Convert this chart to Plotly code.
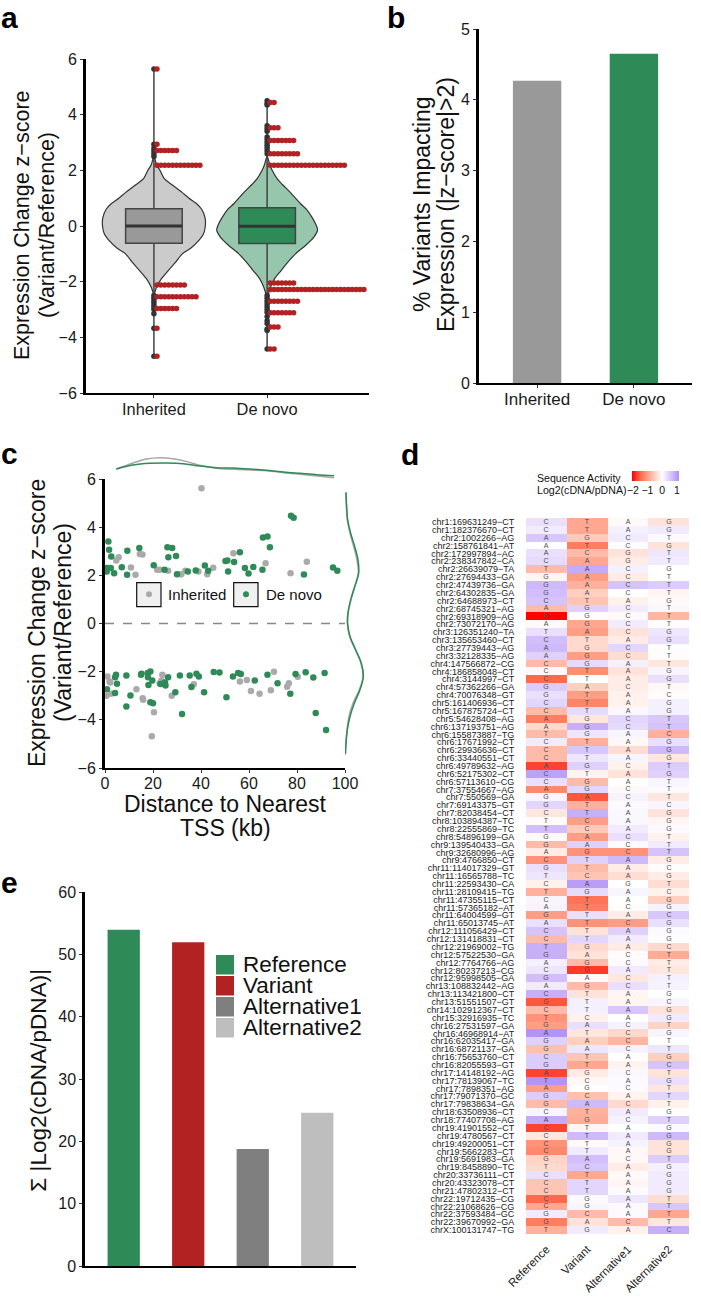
import plotly.graph_objects as go

W, H = 701, 1300
FONT = "Liberation Sans"
GREEN = "#2e8b57"
RED = "#b22222"
GREY = "#aaaaaa"

# a: violins, outliers
groups = ["Inherited", "De novo"]
violin_y_inh = [2.5, 2.2, 2.0, 1.7, 1.5, 1.2, 1.0, 0.8, 0.6, 0.3, 0.0, -0.3, -0.5, -0.8, -1.0, -1.3, -1.6, -1.9, -2.2, -2.5]
violin_w_inh = [0, 8, 18, 31, 52, 85, 105, 128, 143, 153, 154, 148, 136, 110, 85, 65, 43, 22, 8, 0]
violin_y_dn = [2.5, 2.2, 2.0, 1.7, 1.5, 1.2, 1.0, 0.8, 0.6, 0.3, 0.0, -0.15, -0.4, -0.7, -1.0, -1.3, -1.6, -1.9, -2.2, -2.6]
violin_w_dn = [0, 8, 15, 30, 45, 70, 85, 100, 118, 135, 148, 151, 140, 115, 85, 62, 42, 22, 10, 0]
box_q1 = [-0.62, -0.63]
box_med = [0.0, -0.01]
box_q3 = [0.62, 0.66]
box_low = [-4.68, -4.42]
box_high = [5.64, 4.5]
stack_y_inh = [5.64, 2.94, 2.71, 2.18, -2.12, -2.54, -2.96, -3.67, -4.68]
stack_n_inh = [1, 1, 6, 12, 8, 11, 6, 1, 1]
stack_y_dn = [4.44, 3.53, 3.07, 2.6, 2.18, -2.05, -2.28, -2.7, -3.12, -3.63, -4.42]
stack_n_dn = [2, 3, 7, 8, 20, 7, 25, 8, 7, 3, 2]
outlier_inh = [5.64, 2.94, 2.8, 2.7, 2.6, 2.5, -2.5, -2.6, -2.7, -2.8, -2.9, -3.0, -3.15, -3.67, -4.68]
outlier_dn = [4.5, 4.4, 4.35, 3.6, 3.5, 3.4, 3.2, 3.1, 3.0, 2.9, 2.8, 2.7, 2.6, -2.5, -2.6, -2.7, -2.8, -2.9, -3.0, -3.1,
              -3.25, -3.4, -3.5, -3.7, -3.75, -4.42]

# b
pct_impact = [4.27, 4.65]

# c: scatter, marginal densities
dn_x = [1.4, 1.7, 2.6, 0.6, 1.3, 2.4, 0.7, 3.8, 7.0, 9.3, 9.2, 14.3, 26.0, 28.0, 26.4, 29.6, 20.3, 24.8, 30.0, 34.5, 37.8,
        41.6, 43.0, 50.2, 51.0, 51.3, 53.8, 56.2, 58.3, 59.8, 61.8, 65.6, 65.8, 67.7, 68.7, 77.5, 78.6, 82.9, 95.0, 96.8,
        0.8, 4.6, 4.2, 5.0, 4.2, 8.9, 8.9, 10.6, 15.2, 15.0, 17.8, 18.9, 18.1, 19.7, 17.9, 18.9, 20.0, 23.1, 26.3, 25.2,
        25.0, 29.3, 31.2, 32.1, 35.3, 36.0, 38.1, 39.1, 41.3, 45.3, 47.7, 50.6, 53.3, 55.5, 56.6, 62.4, 67.7, 71.9, 77.2,
        79.4, 83.6, 86.8, 87.8, 91.5, 92.1]
dn_z = [3.40, 3.06, 2.78, 2.30, 2.30, 2.30, 2.16, 2.09, 2.34, 3.02, 2.02, 3.13, 3.17, 3.13, 2.75, 2.80, 2.42, 2.23, 2.05, 2.16, 2.20,
        2.41, 2.19, 2.59, 2.62, 2.16, 2.55, 2.96, 2.30, 2.08, 2.35, 2.23, 3.57, 3.61, 3.17, 4.47, 4.39, 2.03, 2.33, 2.19,
        -2.73, -2.13, -2.23, -2.5, -2.89, -2.16, -3.45, -2.99, -2.09, -2.13, -2.06, -1.99, -2.55, -2.37, -2.23, -3.27, -3.31, -2.51, -2.23, -2.57,
        -2.45, -2.85, -2.16, -3.76, -2.16, -2.64, -2.09, -2.20, -2.85, -2.01, -2.03, -3.06, -2.20, -2.06, -2.10, -2.37, -2.13, -2.48, -2.92,
        -2.10, -2.02, -2.24, -3.72, -2.06, -4.42]
inh_x = [40.2, 5.7, 4.7, 14.5, 15.6, 10.8, 12.7, 21.7, 22.8, 26.3, 31.2, 31.8, 33.5, 38.9, 42.6, 45.1, 53.5, 66.9, 77.3, 84.1,
         0.6, 1.0, 1.9, 2.2, 2.6, 13.1, 15.9, 15.7, 20.4, 19.5, 23.9, 23.5, 22.8, 27.8, 37.0, 56.2, 59.1, 60.8, 64.4, 69.1,
         70.4, 75.9, 76.6, 80.3]
inh_z = [5.62, 2.75, 2.62, 2.89, 2.87, 2.33, 2.02, 2.23, 2.23, 2.19, 2.05, 2.05, 2.19, 2.16, 2.05, 2.31, 2.92, 2.5, 2.09, 2.56,
         -3.0, -2.2, -2.41, -2.45, -2.92, -2.73, -3.17, -3.1, -3.68, -4.68, -2.13, -2.37, -2.48, -3.0, -2.52, -2.41, -2.35, -2.8, -2.92, -2.77,
         -2.0, -2.63, -2.48, -2.21]
top_x_dn = [4.7, 11.7, 18.6, 25.6, 32.6, 39.5, 46.5, 53.5, 60.4, 67.4, 74.4, 81.3, 88.3, 95.5]
top_d_dn = [.033, .045, .050, .051, .049, .042, .037, .036, .033, .029, .024, .020, .016, .013]
top_x_inh = [4.7, 11.7, 17.2, 22.8, 28.3, 33.8, 39.5, 46.5, 53.5, 60.4, 67.4, 74.4, 81.3, 88.3, 95.5]
top_d_inh = [.033, .051, .063, .067, .064, .056, .044, .035, .032, .030, .028, .022, .017, .012, .007]
side_z = [5.44, 4.86, 4.30, 3.75, 3.2, 2.64, 2.09, 1.54, .98, .43, 0, -.54, -1.09, -1.65, -2.2, -2.75, -3.31, -3.86, -4.42, -4.97, -5.43]
side_d_dn = [.015, .025, .04, .085, .145, .195, .205, .145, .085, .045, .04, .075, .16, .245, .275, .225, .14, .075, .035, .015, .005]
side_d_inh = [.015, .02, .035, .075, .13, .18, .2, .15, .09, .045, .035, .07, .155, .24, .27, .215, .12, .06, .03, .015, .005]

# d: heatmap
heat_cols = ["Reference", "Variant", "Alternative1", "Alternative2"]
variants = """chr1:169631249-CT chr1:182376670-CT chr2:1002266-AG chr2:158761841-AT chr2:172997894-AC chr2:238347842-CA
chr2:26639079-TA chr2:27694433-GA chr2:47439736-GA chr2:64302835-GA chr2:64688973-CT chr2:68745321-AG chr2:69318909-AG
chr2:73072170-AG chr3:126351240-TA chr3:135653460-CT chr3:27739443-AG chr3:32128335-AG chr4:147566872-CG chr4:186858048-CT
chr4:3144997-CT chr4:57362266-GA chr4:70076348-GT chr5:161406936-CT chr5:167875724-CT chr5:54628408-AG chr6:137193751-AG
chr6:155873887-TG chr6:17671992-CT chr6:29936636-CT chr6:33440551-CT chr6:49789632-AG chr6:52175302-CT chr6:57113610-CG
chr7:37554667-AG chr7:550569-GA chr7:69143375-GT chr7:82038454-CT chr8:103894387-TC chr8:22555869-TC chr8:54896199-GA
chr9:139540433-GA chr9:32680996-AG chr9:4766850-CT chr11:114017329-GT chr11:16565788-TC chr11:22593430-CA chr11:28109415-TG
chr11:47355115-CT chr11:57365182-AT chr11:64004599-GT chr11:65013745-AT chr12:111056429-CT chr12:131418831-CT chr12:21969002-TG
chr12:57522530-GA chr12:7764766-AG chr12:80237213-CG chr12:95998505-GA chr13:108832442-AG chr13:113421800-CT chr13:51551507-GT
chr14:102912367-CT chr15:32916935-TC chr16:27531597-GA chr16:46968914-AT chr16:62035417-GA chr16:68721137-GA chr16:75653760-CT
chr16:82055593-GT chr17:14148192-AG chr17:78139067-TC chr17:7898351-AG chr17:79071370-GC chr17:79838634-GA chr18:63508936-CT
chr18:77407708-AG chr19:41901552-CT chr19:4780567-CT chr19:49200051-CT chr19:5662283-CT chr19:5691983-GA chr19:8458890-TC
chr20:33736111-CT chr20:43323078-CT chr21:47802312-CT chr22:19712435-CG chr22:21068626-CG chr22:37593484-GC chr22:39670992-GA
chrX:100131747-TG""".split()
act_ref = [.3, .2, .55, 0, .3, .35, -.7, -.1, .7, .65, .6, -.7, -2.1, -.05, .3, .65, .7, .45, -.7, -.07, -1.5, .5, .3, .4, -.7, -1.3,
           -.4, -.7, .2, -.7, -.7, -1.7, .95, .3, -1.2, .1, .4, -.25, -.03, .65, -.05, -.7, -.2, -1.1, .3, .25, -.15, -.8, .1, .12,
           -1.0, .3, .6, -.7, .8, .8, .15, .25, .65, .2, .8, -1.6, -.7, -1.1, -1.0, 1.1, .45, -.65, .5, .5, -1.7, 1.1, -1.0, .5, -.7,
           .1, .85, -1.7, -.25, -1.1, -1.2, -.45, -.4, .3, -.6, -.6, -1.5, -.9, .2, -1.3, -.8]
act_var = [-.9, -.9, -.55, -1.3, -.7, -.9, .85, -1.0, -.8, -.5, -.6, .45, -.03, -.9, -1.0, -.4, -.4, -1.0, .35, -1.15, 0, -.5, -1.0, -1.25,
           .35, -.25, .8, .25, -.8, .55, .25, .45, -.12, -.7, .4, -1.6, -.8, .8, -1.0, -.55, -1.0, .45, -1.1, .45, -.7, -.6, 1.0, .35,
           -1.4, -1.3, .3, -1.1, -.3, .4, -.4, -.3, -.7, -1.75, -.05, -.7, -.3, .15, .15, -.15, .3, -.25, -.5, .25, -.6, -.9, -.2, -.07,
           0, -.65, .7, -.8, -.85, -.1, .7, -.05, .2, .65, .55, -.9, .4, .4, .05, .1, -.7, -.3, .2]
act_alt1 = [-.05, .15, .2, .03, -.3, -.2, .15, -.2, .6, 0, -.15, .2, -.05, .2, -.3, -.2, .4, -.35, .15, -.3, -.2, -.2, -.15, -.15, .07, .4,
            .35, .1, -.07, -.35, .1, -.15, -.3, 0, -.05, .12, .05, .07, .07, .2, .3, .05, -1.1, .7, -.2, -.35, 0, .1, 0, -.02, -.2, -1.0,
            .45, .2, -.2, -.03, .05, .2, -.25, .3, -.1, -.1, .55, 0, .12, -.4, -.75, .12, 0, -.12, .07, .05, .05, -.12, -.4, .2, .12, 0,
            .2, .12, -.07, -.07, -.2, -.05, -.1, .05, .25, .05, .05, -.7, -.15]
act_alt2 = [-.3, .2, .05, -.3, .25, .2, 0, 0, .5, -.1, -.05, .07, -.75, -.03, .25, .3, .03, -.03, -.25, .1, .3, -.07, -.03, .15, .15, .55,
            .6, -.8, .3, .7, -.25, .5, .45, .1, .05, -.25, .1, -.3, -.1, .05, -.15, .2, .6, -.2, -.02, -.2, -.35, -.15, -.5, .12, .55, .3,
            .05, .03, -.4, -.85, -.2, -.25, .15, .12, 0, .1, -.3, .2, -.45, .1, 0, .25, -.5, .6, -.3, .3, -.25, .4, -.15, 0, .45, .05,
            .7, -.3, -.3, .5, .15, .2, .2, .2, -.35, .55, -.9, -.25, .8]

# e
sum_labels = ["Reference", "Variant", "Alternative1", "Alternative2"]
sum_values = [54.0, 52.0, 18.8, 24.6]
sum_colors = [GREEN, RED, "#7f7f7f", "#bebebe"]


def fx(p):
    return p / W


def fy(p):
    return 1 - p / H


fig = go.Figure()


# ---- a ----
def violin(center, ys, ws, fill):
    xs = [center - w / 339 for w in ws] + [center + w / 339 for w in ws[::-1]]
    fig.add_trace(go.Scatter(x=xs, y=ys + ys[::-1], mode="lines", fill="toself", fillcolor=fill,
                             line=dict(color="#333333", width=1.2, shape="spline", smoothing=0.8),
                             xaxis="x", yaxis="y", showlegend=False))


violin(0, violin_y_inh, violin_w_inh, "#cbcbcb")
violin(1, violin_y_dn, violin_w_dn, "#96c6ab")
# boxes go on an overlay pair of axes, else the filled violins paint over them
for i, c in enumerate(["#999999", GREEN]):
    fig.add_trace(go.Box(x=[i], q1=[box_q1[i]], median=[box_med[i]], q3=[box_q3[i]], lowerfence=[box_low[i]],
                         upperfence=[box_high[i]], width=0.5, whiskerwidth=0, boxpoints=False, fillcolor=c,
                         line=dict(color="#444444", width=1.5), xaxis="x8", yaxis="y8", showlegend=False))
    fig.add_trace(go.Scatter(x=[i - 0.25, i + 0.25], y=[box_med[i], box_med[i]], mode="lines",
                             line=dict(color="#333333", width=3), xaxis="x8", yaxis="y8", showlegend=False))
for i, vals in enumerate([outlier_inh, outlier_dn]):
    fig.add_trace(go.Scatter(x=[i] * len(vals), y=vals, mode="markers", marker=dict(color="#333333", size=5.5),
                             xaxis="x8", yaxis="y8", showlegend=False))
for i, (sy, sn) in enumerate([(stack_y_inh, stack_n_inh), (stack_y_dn, stack_n_dn)]):
    xs, ys = [], []
    for y, n in zip(sy, sn):
        for k in range(n):
            xs.append(i + 0.027 + 0.0345 * k)
            ys.append(y)
    fig.add_trace(go.Scatter(x=xs, y=ys, mode="markers", marker=dict(color=RED, size=5.5),
                             xaxis="x8", yaxis="y8", showlegend=False))

# ---- b ----
fig.add_trace(go.Bar(x=[0, 1], y=pct_impact, width=0.5, marker=dict(color=["#999999", GREEN], line_width=0),
                     xaxis="x2", yaxis="y2", showlegend=False))

# ---- c ----
fig.add_trace(go.Scatter(x=[0, 100], y=[0, 0], mode="lines", line=dict(color="#888888", width=1.3, dash="dash"),
                         xaxis="x3", yaxis="y3", showlegend=False))
fig.add_trace(go.Scatter(x=inh_x, y=inh_z, mode="markers", marker=dict(color=GREY, size=6.5),
                         xaxis="x3", yaxis="y3", showlegend=False))
fig.add_trace(go.Scatter(x=dn_x, y=dn_z, mode="markers", marker=dict(color=GREEN, size=6.5),
                         xaxis="x3", yaxis="y3", showlegend=False))
fig.add_trace(go.Scatter(x=top_x_inh, y=top_d_inh, mode="lines", line=dict(color="#a6a6a6", width=1.5, shape="spline"),
                         xaxis="x4", yaxis="y4", showlegend=False))
fig.add_trace(go.Scatter(x=top_x_dn, y=top_d_dn, mode="lines", line=dict(color=GREEN, width=1.5, shape="spline"),
                         xaxis="x4", yaxis="y4", showlegend=False))
fig.add_trace(go.Scatter(x=side_d_inh, y=side_z, mode="lines", line=dict(color="#a6a6a6", width=1.5, shape="spline"),
                         xaxis="x5", yaxis="y5", showlegend=False))
fig.add_trace(go.Scatter(x=side_d_dn, y=side_z, mode="lines", line=dict(color=GREEN, width=1.5, shape="spline"),
                         xaxis="x5", yaxis="y5", showlegend=False))

# ---- d ----
z_rows = [list(r) for r in zip(act_ref, act_var, act_alt1, act_alt2)]
letters = []
for v in variants:
    ref, alt = v[-2], v[-1]
    rest = [b for b in "ACGT" if b not in (ref, alt)]
    letters.append([ref, alt] + rest)
row_labels = [v.replace("-", "\u2212") for v in variants]
fig.add_trace(go.Heatmap(
    z=z_rows, x=heat_cols, y=row_labels, text=letters, texttemplate="%{text}",
    textfont=dict(family=FONT, size=7, color="#4d4d4d"),
    zmin=-2.05, zmax=1.15,
    colorscale=[[0, "#ff0000"], [0.172, "#ff6a4a"], [0.328, "#ff9d85"], [0.484, "#ffcfc0"], [0.641, "#ffffff"],
                [0.797, "#dcccfb"], [1, "#ae8ff5"]],
    xaxis="x6", yaxis="y6",
    colorbar=dict(orientation="h", x=fx(632), xanchor="left", y=fy(471), yanchor="top", thickness=10,
                  len=47, lenmode="pixels", xpad=0, ypad=0, outlinewidth=0, ticks="", tickvals=[-2, -1, 0, 1],
                  ticklabelposition="outside", tickfont=dict(family=FONT, size=10.5, color="#111111")),
))

# ---- e ----
fig.add_trace(go.Bar(x=[0, 1, 2, 3], y=sum_values, width=0.5, marker=dict(color=sum_colors, line_width=0),
                     xaxis="x7", yaxis="y7", showlegend=False))


def frame(left, right, top, bottom):
    return dict(domain=[fx(left), fx(right)]), dict(domain=[fy(bottom), fy(top)])


def style_x(lw=2, size=16, **kw):
    return dict(showgrid=False, zeroline=False, showline=True, linecolor="black", linewidth=lw, ticks="outside",
                ticklen=3, tickwidth=1, tickcolor="#333333", ticklabelstandoff=-3,
                tickfont=dict(family=FONT, size=size, color="#1a1a1a"), **kw)


def style_y(lw=3, **kw):
    return dict(showgrid=False, zeroline=False, showline=True, linecolor="black", linewidth=lw, ticks="outside",
                ticklen=3, tickwidth=1, tickcolor="#333333", tickfont=dict(family=FONT, size=16, color="#1a1a1a"), **kw)


hidden = dict(visible=False)
xa, ya = frame(86, 369, 59, 393)
fig.update_layout(
    xaxis=dict(**xa, **style_x(size=16.4, range=[-0.6, 1.9], tickvals=[0, 1], ticktext=groups)),
    yaxis=dict(**ya, **style_y(range=[-6, 6], tickvals=[-6, -4, -2, 0, 2, 4, 6], anchor="x")),
    xaxis8=dict(**hidden, range=[-0.6, 1.9], overlaying="x", anchor="y8"),
    yaxis8=dict(**hidden, range=[-6, 6], overlaying="y", anchor="x8"),
)
xa, ya = frame(479, 692, 29, 383)
fig.update_layout(
    xaxis2=dict(**xa, **style_x(size=17, range=[-0.6, 1.6], tickvals=[0, 1], ticktext=groups, anchor="y2")),
    yaxis2=dict(**ya, **style_y(range=[0, 5], tickvals=[0, 1, 2, 3, 4, 5], anchor="x2")),
)
xa, ya = frame(105, 345, 479, 768)
fig.update_layout(
    xaxis3=dict(**xa, **style_x(range=[0, 100], tickvals=[0, 20, 40, 60, 80, 100], anchor="y3")),
    yaxis3=dict(**ya, **style_y(range=[-6, 6], tickvals=[-6, -4, -2, 0, 2, 4, 6], anchor="x3")),
)
xa, ya = frame(105, 345, 456.7, 480)
fig.update_layout(xaxis4=dict(**xa, **hidden, range=[0, 100], anchor="y4"),
                  yaxis4=dict(**ya, **hidden, range=[0, 0.07], anchor="x4"))
xa, ya = frame(345, 365, 479, 768)
fig.update_layout(xaxis5=dict(**xa, **hidden, range=[0, 0.3], anchor="y5"),
                  yaxis5=dict(**ya, **hidden, range=[-6, 6], anchor="x5"))
xa, ya = frame(526, 689, 518, 1234)
fig.update_layout(
    xaxis6=dict(**xa, anchor="y6", tickangle=-45, ticks="outside", ticklen=3, tickcolor="rgba(0,0,0,0)", showgrid=False,
                zeroline=False, tickfont=dict(family=FONT, size=11.5, color="#1a1a1a"), tickvals=heat_cols, ticktext=heat_cols),
    yaxis6=dict(**ya, anchor="x6", autorange="reversed", ticks="outside", ticklen=9, tickcolor="rgba(0,0,0,0)",
                showgrid=False, zeroline=False, tickmode="array", tickvals=row_labels, ticktext=row_labels,
                tickfont=dict(family=FONT, size=9, color="#1a1a1a")),
)
xa, ya = frame(85.3, 356, 892.3, 1266)
fig.update_layout(
    xaxis7=dict(**xa, **style_x(range=[-0.595, 3.6], anchor="y7"), showticklabels=False),
    yaxis7=dict(**ya, **style_y(range=[0, 60], tickvals=[0, 10, 20, 30, 40, 50, 60], anchor="x7")),
)
fig.update_xaxes(ticks="", selector=dict(anchor="y7"))


def note(text, x, y, size, angle=0, xanchor="center", yanchor="middle", bold=False, color="#111111"):
    if xanchor == "left":
        x -= 2
    fig.add_annotation(text=f"<b>{text}</b>" if bold else text, x=fx(x), y=fy(y), xref="paper", yref="paper",
                       showarrow=False, textangle=angle, xanchor=xanchor, yanchor=yanchor,
                       font=dict(family=FONT, size=size, color=color))


for label, px, py in [("a", 9, 17), ("b", 396, 17), ("c", 9, 453), ("d", 410, 455), ("e", 9, 882)]:
    note(label, px, py, 30, bold=True, color="black")

note("Expression Change z\u2212score", 22, 225, 21.5, angle=-90)
note("(Variant/Reference)", 47, 225, 21.5, angle=-90)
note("% Variants Impacting", 422, 204, 23, angle=-90)
note("Expression (|z\u2212score|>2)", 446, 205, 23, angle=-90)
note("Expression Change z\u2212score", 37, 623, 23, angle=-90)
note("(Variant/Reference)", 63, 623, 23, angle=-90)
note("Distance to Nearest", 225, 804, 23)
note("TSS (kb)", 225, 828, 23)
note("\u03a3 |Log2(cDNA/pDNA)|", 37.7, 1080, 22.6, angle=-90)
note("Sequence Activity", 536.7, 478, 10.6, xanchor="left")
note("Log2(cDNA/pDNA)", 536.7, 490, 10.6, xanchor="left")

# c legend keys
shapes = []
for x0, x1, dot, colour, label, tx in [(136.7, 161, 149, GREY, "Inherited", 168), (233.7, 258, 246, GREEN, "De novo", 265.7)]:
    shapes.append(dict(type="rect", xref="paper", yref="paper", x0=fx(x0), x1=fx(x1), y0=fy(606.7), y1=fy(582.7),
                       fillcolor="#f0f0f0", line=dict(color="#111111", width=1.2)))
    shapes.append(dict(type="circle", xref="paper", yref="paper", x0=fx(dot - 3), x1=fx(dot + 3), y0=fy(597.3), y1=fy(591.3),
                       fillcolor=colour, line_width=0))
    note(label, tx, 595, 15, xanchor="left")

# e legend keys
for k, (label, colour) in enumerate(zip(sum_labels, sum_colors)):
    top = 955 + 21 * k
    shapes.append(dict(type="rect", xref="paper", yref="paper", x0=fx(216), x1=fx(234), y0=fy(top + 19.5), y1=fy(top),
                       fillcolor=colour, line_width=0))
    note(label, 243, top + 9.5, 22.5, xanchor="left")

fig.update_layout(
    width=W, height=H, margin=dict(l=0, r=0, t=0, b=0, autoexpand=False), paper_bgcolor="white", plot_bgcolor="white",
    shapes=shapes, font=dict(family=FONT), showlegend=False,
)

fig.write_html("out.html", config={"displayModeBar": False}, post_script="document.body.style.margin='0';")
